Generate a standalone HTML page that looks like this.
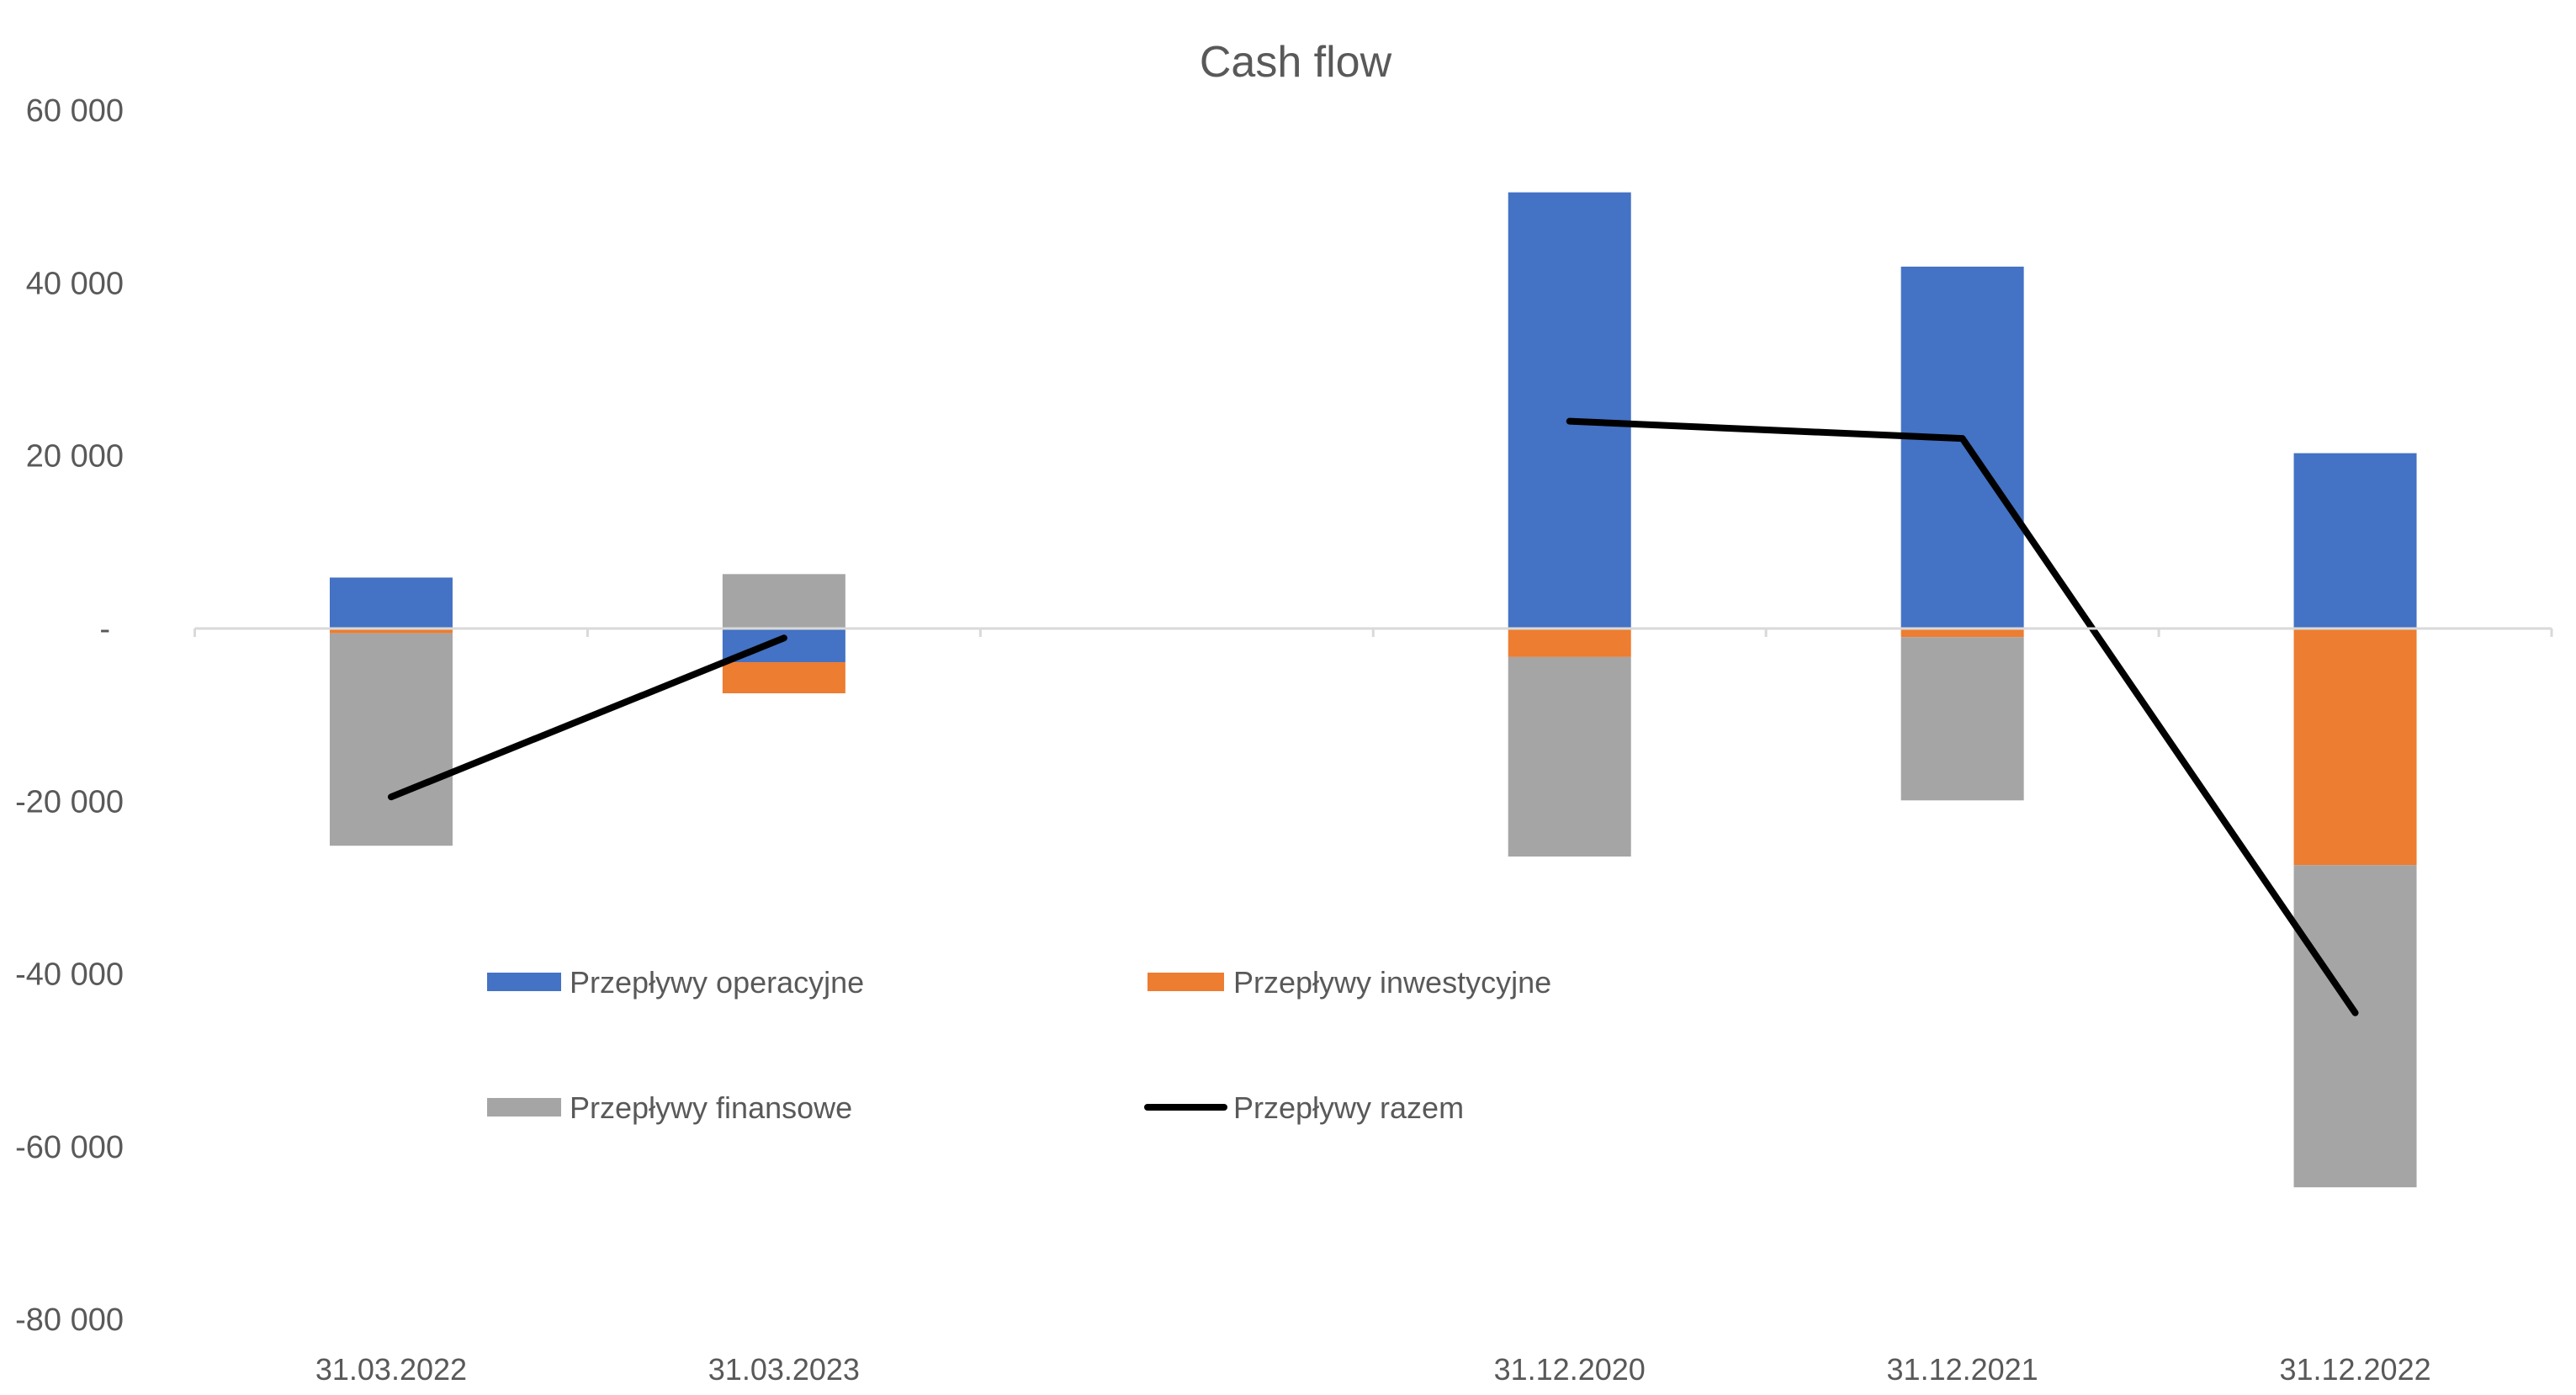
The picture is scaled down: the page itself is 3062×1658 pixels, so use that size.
<!DOCTYPE html>
<html><head><meta charset="utf-8"><style>
html,body{margin:0;padding:0;background:#fff;}
svg{display:block;font-family:"Liberation Sans",sans-serif;}
</style></head><body>
<svg id="chart" width="3062" height="1658" viewBox="0 0 3062 1658" xmlns="http://www.w3.org/2000/svg">
<rect width="3062" height="1658" fill="#fff"/>
<text x="1540" y="91" font-size="52" fill="#595959" text-anchor="middle">Cash flow</text>
<g id="grid"></g><g id="bars"></g><g id="line"></g><g id="axes"></g>
<g font-size="36" fill="#595959">
 <g><rect x="579" y="1156" width="88" height="22" fill="#4472C4"/><text x="677" y="1180">Przepływy operacyjne</text></g>
 <g><rect x="1364" y="1156" width="91" height="22" fill="#ED7D31"/><text x="1466" y="1180">Przepływy inwestycyjne</text></g>
 <g><rect x="579" y="1305" width="88" height="22" fill="#A5A5A5"/><text x="677" y="1329">Przepływy finansowe</text></g>
 <g><line x1="1364" y1="1316" x2="1455" y2="1316" stroke="#000" stroke-width="8" stroke-linecap="round"/><text x="1466" y="1329">Przepływy razem</text></g>
</g>
</svg>
<script>
const categories = ["31.03.2022","31.03.2023","","31.12.2020","31.12.2021","31.12.2022"];
const operacyjne = [5900, -3900, null, 50500, 41900, 20300];
const inwestycyjne = [-550, -3600, null, -3300, -1000, -27400];
const finansowe = [-24600, 6300, null, -23100, -18900, -37300];
const razem = [-19500, -1100, null, 24000, 22000, -44500];
const yTicks = [60000, 40000, 20000, 0, -20000, -40000, -60000, -80000];
const yTickLabels = ["60 000","40 000","20 000","-","-20 000","-40 000","-60 000","-80 000"];

const NS="http://www.w3.org/2000/svg";
const plotL=231.5, plotR=3033, zeroY=747, pxPer=0.010265;
const slot=(plotR-plotL)/categories.length, barW=146;
const y=v=>zeroY - v*pxPer;
const xc=i=>plotL + slot*(i+0.5);
function mk(tag,attrs,parent){const e=document.createElementNS(NS,tag);for(const k in attrs)e.setAttribute(k,attrs[k]);document.getElementById(parent).appendChild(e);return e;}

yTicks.forEach((t,i)=>{
  const e=mk('text',{x: t===0?262/2:147, y:y(t)+13,'font-size':38,fill:'#595959','text-anchor':'end'},'axes');
  
  
  e.textContent=yTickLabels[i];
});
const ax=mk('line',{x1:plotL,y1:zeroY,x2:plotR,y2:zeroY,stroke:'#D9D9D9','stroke-width':3},'axes');


for(let i=0;i<=categories.length;i++){
  const tk=mk('line',{x1:plotL+slot*i,y1:zeroY,x2:plotL+slot*i,y2:zeroY+10,stroke:'#D9D9D9','stroke-width':3},'axes');
  
  
}
categories.forEach((c,i)=>{
  if(!c)return;
  const e=mk('text',{x:xc(i),y:1640,'font-size':36,fill:'#595959','text-anchor':'middle'},'axes');
  
  
  e.textContent=c;
});
const series=[[operacyjne,'#4472C4','operacyjne'],[inwestycyjne,'#ED7D31','inwestycyjne'],[finansowe,'#A5A5A5','finansowe']];
categories.forEach((c,i)=>{
  let pos=0,neg=0;
  series.forEach(([arr,col,nm])=>{
    const v=arr[i]; if(v==null)return;
    let a,b;
    if(v>=0){a=pos;b=pos+v;pos=b;}else{a=neg;b=neg+v;neg=b;}
    const top=Math.min(y(a),y(b)),h=Math.abs(y(a)-y(b));
    const r=mk('rect',{x:xc(i)-barW/2,y:top,width:barW,height:h,fill:col},'bars');
    
    
  });
});
let segs=[],cur=[];
razem.forEach((v,i)=>{if(v==null){if(cur.length)segs.push(cur);cur=[];}else cur.push(xc(i)+','+y(v));});
if(cur.length)segs.push(cur);
segs.forEach(s=>{
  const p=mk('polyline',{points:s.join(' '),fill:'none',stroke:'#000','stroke-width':8,'stroke-linecap':'round','stroke-linejoin':'round'},'line');
  
  
});
</script>
</body></html>
